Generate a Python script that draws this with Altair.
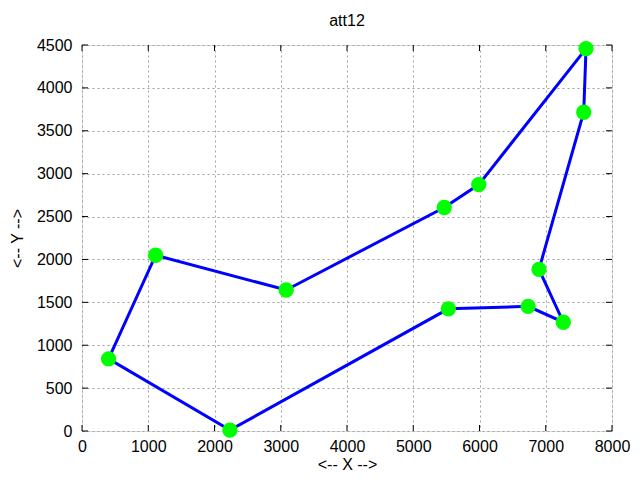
import altair as alt
import pandas as pd

# att12 cities, in tour order (the tour closes back on the first city)
tour_x = [7608, 7573, 6898, 7265, 6734, 5530, 2233, 401, 1112, 3082, 5468, 5989]
tour_y = [4458, 3716, 1885, 1268, 1453, 1424, 10, 841, 2049, 1644, 2606, 2873]

x_ticks = [0, 1000, 2000, 3000, 4000, 5000, 6000, 7000, 8000]
y_ticks = [0, 500, 1000, 1500, 2000, 2500, 3000, 3500, 4000, 4500]

FONT = "Liberation Sans"
W, H = 530, 386

cities = pd.DataFrame({"x": tour_x, "y": tour_y})
path = pd.DataFrame({
    "x": tour_x + tour_x[:1],
    "y": tour_y + tour_y[:1],
    "step": list(range(len(tour_x) + 1)),
})

xscale = alt.Scale(domain=[0, 8000], nice=False, zero=False)
yscale = alt.Scale(domain=[0, 4500], nice=False, zero=False)

x_axis = alt.Axis(values=x_ticks, format="d", title="<-- X -->", grid=True,
                  gridColor="#a0a0a0", gridDash=[2, 3], gridWidth=1, ticks=False,
                  domain=False, labelFlush=False, labelOverlap=False,
                  labelPadding=7, labelFontSize=16, labelFont=FONT,
                  labelColor="#000", titleFont=FONT, titleFontSize=16,
                  titleFontWeight="normal", titleColor="#000", titlePadding=2)
y_axis = alt.Axis(values=y_ticks, format="d", title="<-- Y -->", grid=True,
                  gridColor="#a0a0a0", gridDash=[2, 3], gridWidth=1, ticks=False,
                  domain=False, labelFlush=False, labelOverlap=False,
                  labelPadding=10, labelFontSize=16, labelFont=FONT,
                  labelColor="#000", titleFont=FONT, titleFontSize=16,
                  titleFontWeight="normal", titleColor="#000", titlePadding=11)

base_line = alt.Chart(path).mark_line(color="#0000ff", strokeWidth=3).encode(
    x=alt.X("x:Q", scale=xscale, axis=x_axis),
    y=alt.Y("y:Q", scale=yscale, axis=y_axis),
    order="step:Q",
)

points = alt.Chart(cities).mark_circle(color="#00ff00", opacity=1, size=235).encode(
    x=alt.X("x:Q", scale=xscale),
    y=alt.Y("y:Q", scale=yscale),
)

# gnuplot-style inward ticks, mirrored on all four sides
xt = pd.DataFrame({"t": x_ticks})
yt = pd.DataFrame({"t": y_ticks})
tick_bottom = alt.Chart(xt).mark_rule(color="#000", strokeWidth=1).encode(
    x=alt.X("t:Q", scale=xscale), y=alt.value(H), y2=alt.value(H - 6))
tick_top = alt.Chart(xt).mark_rule(color="#000", strokeWidth=1).encode(
    x=alt.X("t:Q", scale=xscale), y=alt.value(0), y2=alt.value(6))
tick_left = alt.Chart(yt).mark_rule(color="#000", strokeWidth=1).encode(
    y=alt.Y("t:Q", scale=yscale), x=alt.value(0), x2=alt.value(6))
tick_right = alt.Chart(yt).mark_rule(color="#000", strokeWidth=1).encode(
    y=alt.Y("t:Q", scale=yscale), x=alt.value(W), x2=alt.value(W - 6))

chart = alt.layer(
    base_line, points, tick_bottom, tick_top, tick_left, tick_right
).properties(
    width=W,
    height=H,
    title=alt.Title("att12", font=FONT, fontSize=16, fontWeight="normal",
                    color="#000", offset=8),
    autosize=alt.AutoSizeParams(type="none"),
    padding={"left": 74, "top": 37, "right": 20, "bottom": 41},
).configure_view(
    stroke="#000", strokeWidth=1
).configure(background="white")

chart.save("out.html", embed_options={"renderer": "svg", "actions": False})
